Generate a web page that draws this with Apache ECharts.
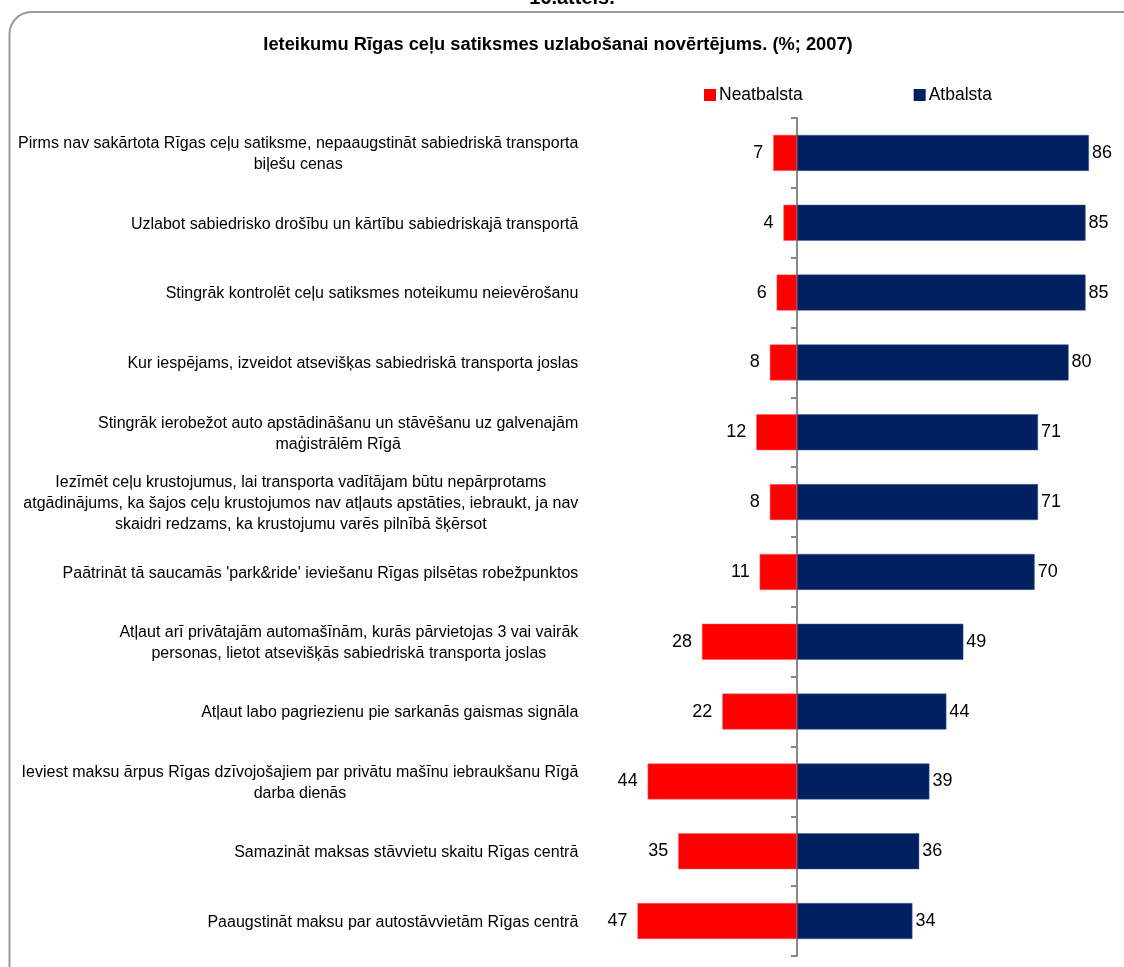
<!DOCTYPE html>
<html>
<head>
<meta charset="utf-8">
<script src="https://cdn.jsdelivr.net/npm/echarts@6/dist/echarts.min.js"></script>
<style>
html,body{margin:0;padding:0;background:#fff;}
#chart{width:1124px;height:967px;}
</style>
</head>
<body>
<div id="chart"></div>
<script>
const categories = [
  "Pirms nav sakārtota Rīgas ceļu satiksme, nepaaugstināt sabiedriskā transporta\nbiļešu cenas",
  "Uzlabot sabiedrisko drošību un kārtību sabiedriskajā transportā",
  "Stingrāk kontrolēt ceļu satiksmes noteikumu neievērošanu",
  "Kur iespējams, izveidot atsevišķas sabiedriskā transporta joslas",
  "Stingrāk ierobežot auto apstādināšanu un stāvēšanu uz galvenajām\nmaģistrālēm Rīgā",
  "Iezīmēt ceļu krustojumus, lai transporta vadītājam būtu nepārprotams\natgādinājums, ka šajos ceļu krustojumos nav atļauts apstāties, iebraukt, ja nav\nskaidri redzams, ka krustojumu varēs pilnībā šķērsot",
  "Paātrināt tā saucamās 'park&ride' ieviešanu Rīgas pilsētas robežpunktos",
  "Atļaut arī privātajām automašīnām, kurās pārvietojas 3 vai vairāk\npersonas, lietot atsevišķās sabiedriskā transporta joslas",
  "Atļaut labo pagriezienu pie sarkanās gaismas signāla",
  "Ieviest maksu ārpus Rīgas dzīvojošajiem par privātu mašīnu iebraukšanu Rīgā\ndarba dienās",
  "Samazināt maksas stāvvietu skaitu Rīgas centrā",
  "Paaugstināt maksu par autostāvvietām Rīgas centrā"
];
const neatbalsta = [7, 4, 6, 8, 12, 8, 11, 28, 22, 44, 35, 47];
const atbalsta = [86, 85, 85, 80, 71, 71, 70, 49, 44, 39, 36, 34];
const seriesNames = ["Neatbalsta", "Atbalsta"];
const titleText = "Ieteikumu Rīgas ceļu satiksmes uzlabošanai novērtējums. (%; 2007)";
const topText = "16.attēls.";

const FONT = "'Liberation Sans', Arial, sans-serif";
const chart = echarts.init(document.getElementById('chart'));
chart.setOption({
  animation: false,
  backgroundColor: '#fff',
  graphic: [
    { type: 'rect', shape: { x: 9.5, y: 12, width: 1140, height: 980, r: 22 },
      style: { fill: 'none', stroke: '#9a9a9a', lineWidth: 2 }, z: 0 },
    { type: 'text', x: 572, y: 8, style: { text: topText, font: "bold 20px " + FONT, fill: '#000', align: 'center', verticalAlign: 'bottom' } },
    { type: 'text', x: 558, y: 45, style: { text: titleText, font: "bold 18.3px " + FONT, fill: '#000', align: 'center', verticalAlign: 'middle' } }
  ],
  legend: {
    left: 699, top: 81, itemWidth: 12, itemHeight: 12, itemGap: 111, icon: 'rect',
    itemStyle: { borderWidth: 0 },
    textStyle: { fontFamily: FONT, fontSize: 17.5, color: '#000', padding: [0, 0, 0, -2] },
    data: seriesNames
  },
  grid: { left: 610.3, right: 4.5, top: 118, bottom: 11, outerBoundsMode: 'none', containLabel: false },
  xAxis: { type: 'value', min: -55, max: 95, show: false },
  yAxis: [
    { type: 'category', data: categories, inverse: true,
      axisLine: { show: false, onZero: false }, axisTick: { show: false },
      axisLabel: { margin: 32, fontFamily: FONT, fontSize: 16, color: '#000', lineHeight: 21,
        formatter: v => v.split('\n').map(l => '{c|' + l + '}').join('\n'),
        rich: { c: { align: 'center', fontFamily: FONT, fontSize: 16, lineHeight: 21, color: '#000', padding: [3, 0, 0, 0] } } } },
    { type: 'category', data: categories, inverse: true, position: 'left',
      axisLine: { show: true, onZero: true, lineStyle: { color: '#888', width: 2 } },
      axisTick: { show: true, length: 6, lineStyle: { color: '#888', width: 2 } },
      axisLabel: { show: false } }
  ],
  series: [
    { name: seriesNames[0], type: 'bar', stack: 'a', barWidth: 36,
      data: neatbalsta.map(v => -v),
      itemStyle: { color: '#ff0000', borderColor: '#ff6060', borderWidth: 0.5 },
      label: { show: true, position: 'left', distance: 10, formatter: p => Math.abs(p.value),
        fontFamily: FONT, fontSize: 18, color: '#000' } },
    { name: seriesNames[1], type: 'bar', stack: 'a', barWidth: 36,
      data: atbalsta,
      itemStyle: { color: '#002060', borderColor: '#4060a0', borderWidth: 0.5 },
      label: { show: true, position: 'right', distance: 3, fontFamily: FONT, fontSize: 18, color: '#000' } }
  ]
});
</script>
</body>
</html>
